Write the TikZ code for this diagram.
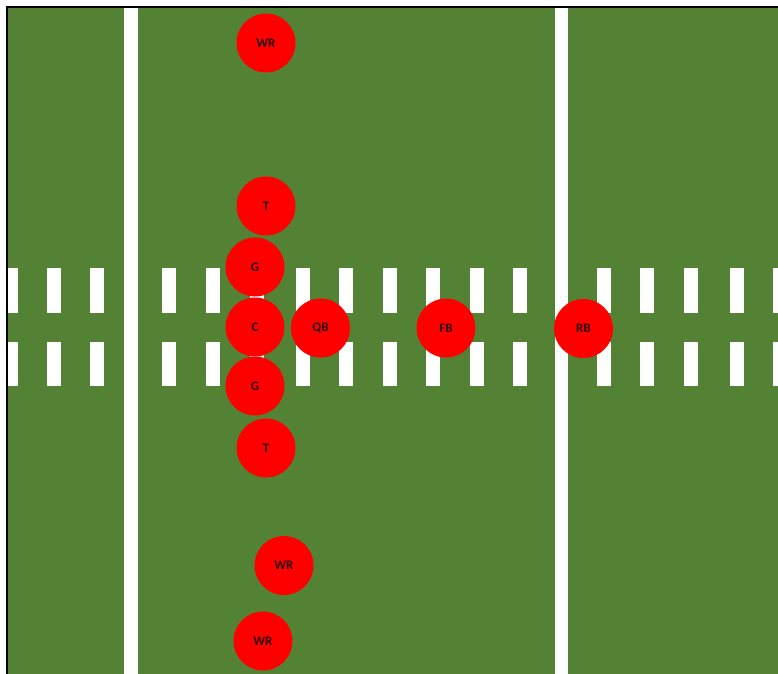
\documentclass[tikz,border=0pt]{standalone}
\usepackage{fontspec}
\setmainfont{Carlito}
\definecolor{field}{HTML}{548235}
\definecolor{player}{HTML}{FF0000}
\definecolor{ptext}{HTML}{2A0000}
\begin{document}
\begin{tikzpicture}[x=1pt,y=-1pt,
  player/.style={circle,fill=player,minimum size=59pt,inner sep=0pt,
    font=\bfseries\fontsize{13}{14}\selectfont,text=ptext},
  hash/.style={fill=white},
  yardline/.style={fill=white}]
\useasboundingbox (0,0) rectangle (778,673);
\fill[white] (0,0) rectangle (778,673);
\begin{scope}
\clip (7,7) rectangle (780,675);
\fill[field] (7,7) rectangle (780,675);
\foreach \x in {4,47,90,162,206,250,296,339,383,426,470,513,597,640,684,730,773}{
  \fill[hash] (\x,268) rectangle ++(13.5,45);
  \fill[hash] (\x,342) rectangle ++(13.5,44);
}
\fill[yardline] (124,7) rectangle (137.5,675);
\fill[yardline] (555,7) rectangle (568,675);
\end{scope}
\draw[black,line width=1.6pt] (7,675) -- (7,7) -- (780,7);
\node[player] (wr1) at (266,43) {WR};
\node[player] (t1) at (266,206) {T};
\node[player] (g1) at (255,267) {G};
\node[player] (c) at (255,327) {C};
\node[player] (g2) at (255,386) {G};
\node[player] (qb) at (320.5,328) {QB};
\node[player] (fb) at (446,328) {FB};
\node[player] (rb) at (583.5,328.5) {RB};
\node[player] (t2) at (266,448) {T};
\node[player] (wr2) at (284,565.5) {WR};
\node[player] (wr3) at (263,641) {WR};
\end{tikzpicture}
\end{document}
